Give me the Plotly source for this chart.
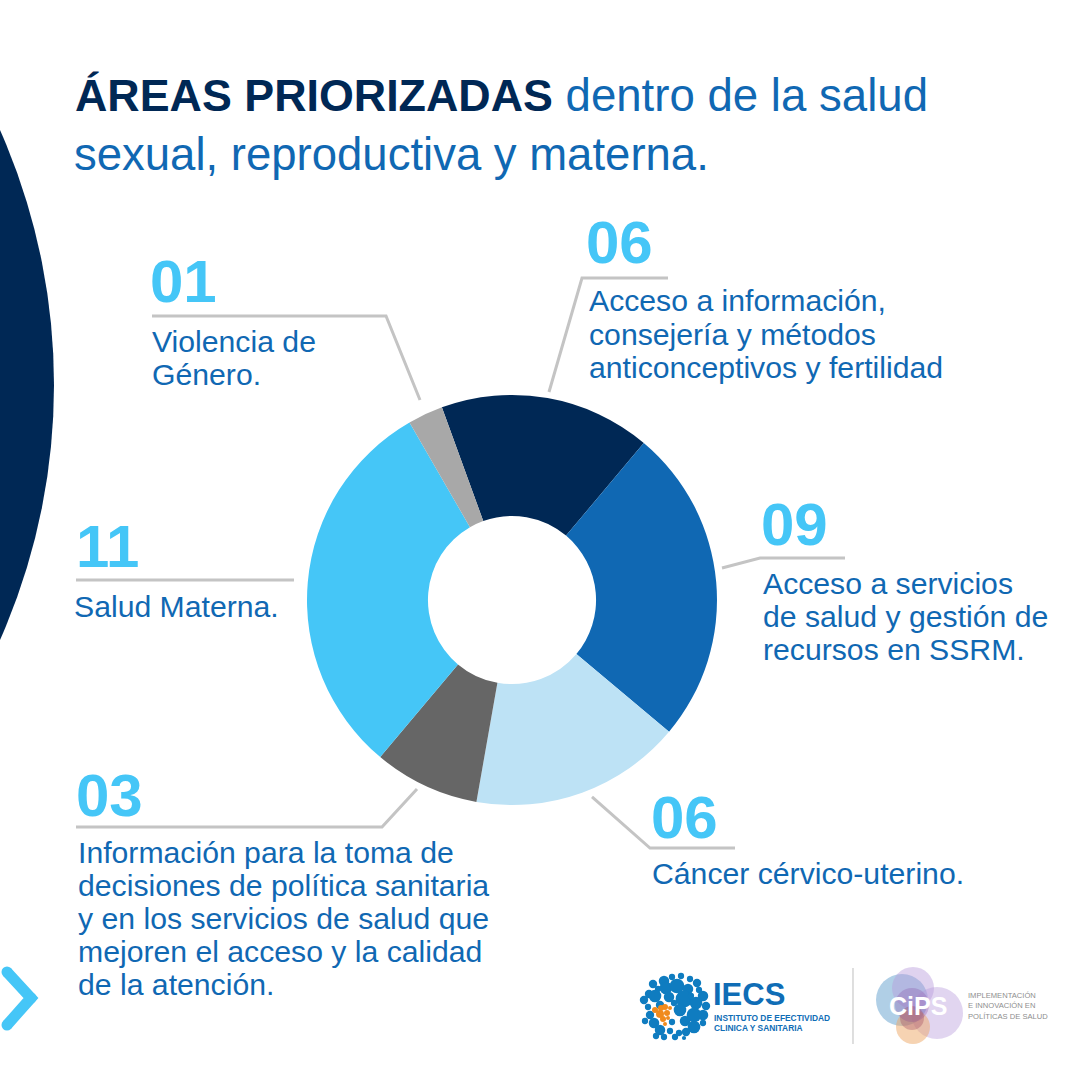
import plotly.graph_objects as go

# ---- data ----
categories = ["Acceso a información, consejería y métodos anticonceptivos y fertilidad",
              "Acceso a servicios de salud y gestión de recursos en SSRM.",
              "Cáncer cérvico-uterino.",
              "Información para la toma de decisiones de política sanitaria y en los servicios de salud que mejoren el acceso y la calidad de la atención.",
              "Salud Materna.",
              "Violencia de Género."]
values = [6, 9, 6, 3, 11, 1]
number_labels = ["06", "09", "06", "03", "11", "01"]
label_lines = [["Acceso a información,", "consejería y métodos", "anticonceptivos y fertilidad"],
               ["Acceso a servicios", "de salud y gestión de", "recursos en SSRM."],
               ["Cáncer cérvico-uterino."],
               ["Información para la toma de", "decisiones de política sanitaria", "y en los servicios de salud que",
                "mejoren el acceso y la calidad", "de la atención."],
               ["Salud Materna."],
               ["Violencia de", "Género."]]

# ---- style ----
slice_colors = ["#002855", "#1068B3", "#BDE2F5", "#666666", "#45C6F7", "#A8A8A8"]
NAVY, BLUE, SKY, GREY = "#002855", "#1068B3", "#45C6F7", "#C4C4C4"
FONT = "Liberation Sans"
W = H = 1080
def X(x): return x / W
def Y(y): return 1 - y / H

# layout anchors: number (x, y centre), text (x, first line y centre)
number_pos = [(586, 243), (761, 524), (651, 817), (76, 795), (76, 546), (150, 282)]
text_pos = [(589, 301), (763, 583), (652, 873), (78, 852), (74, 606), (152, 341)]
LINE_H = 33
leaders = [[(668, 278), (582, 278), (549, 392)],
           [(845, 558), (760, 558), (722, 568)],
           [(735, 848), (650, 848), (592, 797)],
           [(76, 827), (382, 827), (417, 789)],
           [(76, 580), (294, 580)],
           [(152, 316), (386, 316), (420, 400)]]

ann, shapes = [], []
def text(x, y, s, size, color, bold=False, family=FONT, anchor="left"):
    ann.append(dict(x=X(x), y=Y(y), xref="paper", yref="paper", text=f"<b>{s}</b>" if bold else s,
                    showarrow=False, xanchor=anchor, yanchor="middle", borderpad=0, borderwidth=0,
                    font=dict(family=family, size=size, color=color)))
def circle(cx, cy, r, color, opacity=1.0, rx=None, layer="above"):
    rx = r if rx is None else rx
    shapes.append(dict(type="circle", xref="paper", yref="paper", x0=X(cx - rx), x1=X(cx + rx),
                       y0=Y(cy + r), y1=Y(cy - r), fillcolor=color, opacity=opacity,
                       line=dict(width=0), layer=layer))
def poly(pts, color, width):
    path = "M " + " L ".join(f"{X(a):.5f} {Y(b):.5f}" for a, b in pts)
    shapes.append(dict(type="path", xref="paper", yref="paper", path=path,
                       line=dict(color=color, width=width), layer="above"))

# background arc
circle(-575, 385, 629, NAVY, layer="below")

# title
ann.append(dict(x=X(73), y=Y(95), xref="paper", yref="paper", showarrow=False, xanchor="left", yanchor="middle",
                text=f"<b><span style='color:{NAVY};font-size:44.8px'>ÁREAS PRIORIZADAS</span></b> dentro de la salud",
                font=dict(family=FONT, size=45.6, color=BLUE)))
text(74, 155, "sexual, reproductiva y materna.", 45.5, BLUE)

# labels and leaders
for n, (nx, ny), lines, (tx, ty), lead in zip(number_labels, number_pos, label_lines, text_pos, leaders):
    text(nx, ny, n, 60, SKY, bold=True)
    for i, ln in enumerate(lines):
        text(tx, ty + i * LINE_H, ln, 30.2, BLUE)
    poly(lead, GREY, 3)

# chevron
poly([(7, 972), (31, 998), (7, 1025)], SKY, 11)
for cx, cy in [(7, 972), (31, 998), (7, 1025)]:
    circle(cx, cy, 5.5, SKY)

# IECS logo blobs
blobs = [(664,981,5),(672,977,3),(681,976,3),(690,979,3),(697,983,4),(653,984,4),(658,989,3),(666,988,6),(677,986,7),
         (688,989,5),(699,990,3),(703,996,5),(649,994,4),(644,1000,4),(655,996,6),(669,997,5),(684,999,8),(696,1003,6),
         (706,1006,4),(648,1007,3),(660,1005,4),(703,1015,5),(650,1015,4),(645,1021,3),(694,1015,7),(680,1010,6),
         (685,1021,5),(694,1027,6),(703,1023,3),(654,1023,5),(660,1030,5),(670,1031,3),(679,1033,3),(686,1032,4),
         (664,1037,3),(675,1037,3),(684,1038,2),(656,1036,3),(672,1022,3),(674,1003,3),(691,996,3)]
for cx, cy, r in blobs:
    circle(cx, cy, r * 1.05, "#0F7CC0")
oranges = [(655,1010,3),(661,1008,3),(665,1007,3),(660,1014,4),(667,1013,3),(663,1019,3),(668,1018,2),(665,1024,2),(670,1008,2)]
for cx, cy, r in oranges:
    circle(cx, cy, r, "#F08A1C")
text(713, 994.5, "<b>IECS</b>", 31, "#0F6DB6")
text(714, 1018, "<b>INSTITUTO DE EFECTIVIDAD</b>", 8.4, "#0F6DB6")
text(714, 1027.5, "<b>CLINICA Y SANITARIA</b>", 8.4, "#0F6DB6")
poly([(853, 968), (853, 1044)], "#C9C9C9", 1.2)

# CiPS logo
circle(902, 1000, 26, "#6FA8D2", 0.55)
circle(913, 988, 21, "#B79BDB", 0.45)
circle(937, 1013, 26, "#B79BDB", 0.42)
circle(913, 1027, 17, "#EDA866", 0.5)
circle(912, 1005, 17, "#8F5FB0", 0.35)
circle(912, 1018, 12, "#A0485F", 0.35)
ann.append(dict(x=X(918), y=Y(1006), xref="paper", yref="paper", showarrow=False, xanchor="center", yanchor="middle",
                text="<b>CiPS</b>", font=dict(family=FONT, size=25, color="white")))
for i, s in enumerate(["IMPLEMENTACIÓN", "E INNOVACIÓN EN", "POLÍTICAS DE SALUD"]):
    text(968, 995 + i * 10.5, s, 7.6, "#8E8E8E")

fig = go.Figure(go.Pie(labels=categories, values=values, hole=0.41, sort=False, direction="clockwise",
                       rotation=340, textinfo="none", hoverinfo="label+value",
                       marker=dict(colors=slice_colors, line=dict(width=0)),
                       domain=dict(x=[X(307), X(717)], y=[Y(805), Y(395)])))
fig.update_layout(width=W, height=H, margin=dict(l=0, r=0, t=0, b=0), showlegend=False,
                  paper_bgcolor="white", plot_bgcolor="white", annotations=ann, shapes=shapes)
fig.write_html("out.html", post_script="document.body.style.margin='0';", config=dict(displayModeBar=False))
